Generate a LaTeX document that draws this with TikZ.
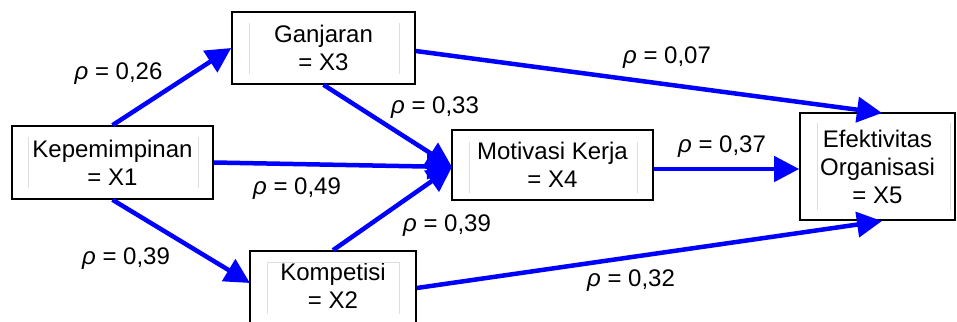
\documentclass[tikz,border=0pt]{standalone}
\usepackage{fontspec}
\setmainfont{Liberation Sans}
\usetikzlibrary{arrows.meta}
\begin{document}
\begin{tikzpicture}[x=1pt,y=-1pt,
  box/.style={draw=black,line width=1.6pt,fill=white,inner sep=0pt,
    font=\fontsize{24}{28}\selectfont,align=center},
  arr/.style={draw=blue,line width=4.5pt,-{Triangle[length=25pt,width=25pt]}},
  lab/.style={font=\fontsize{24}{28}\selectfont,inner sep=0pt},
  guide/.style={draw=black!13,line width=0.8pt}]
\useasboundingbox (0,0) rectangle (957,321);
% boxes
\node[box,minimum width=201pt,minimum height=73pt] (x1) at (112.5,162.5) {Kepemimpinan\\= X1};
\node[box,minimum width=183pt,minimum height=72pt] (x3) at (323.5,48) {Ganjaran\\= X3};
\node[box,minimum width=166pt,minimum height=74pt] (x2) at (333,288) {};
\node[box,minimum width=201pt,minimum height=70pt] (x4) at (552.5,165) {Motivasi Kerja\\= X4};
\node[box,minimum width=155pt,minimum height=107pt] (x5) at (877.5,166.5) {Efektivitas\\Organisasi\\= X5};
\node[font=\fontsize{24}{28}\selectfont,align=center,inner sep=0pt] (x2t) at (333,286) {Kompetisi\\= X2};
% guide lines (text box margins)
\draw[guide] (28,137) -- (28,188) (198,137) -- (198,188);
\draw[guide] (249,23) -- (249,74) (399,23) -- (399,74);
\draw[guide] (267,314) -- (267,262) -- (399,262) -- (399,314);
\draw[guide] (469,142) -- (469,193) (637,142) -- (637,193);
\draw[guide] (817,123) -- (817,210) (950,123) -- (950,210);
% connector end points
\coordinate (x4in) at (452,167);
\coordinate (x2in) at (250,283);
\coordinate (x5top) at (882,113);
\coordinate (x5bot) at (882,221);
% arrows
\draw[arr] (x1.north) -- (x3.west);
\draw[arr] (x1.east) -- (x4in);
\draw[arr] (x1.south) -- (x2in);
\draw[arr] (x3.south) -- (x4in);
\draw[arr] (x2.north) -- (x4in);
\draw[arr] ([yshift=-3pt]x3.east) -- (x5top);
\draw[arr] (x4.east |- 0,169) -- (x5.west |- 0,169);
\draw[arr] (x2.east) -- (x5bot);
% labels
\node[lab] (l1) at (118.5,74) {\textit{ρ} = 0,26};
\node[lab] (l2) at (667,58) {\textit{ρ} = 0,07};
\node[lab] (l3) at (435,108) {\textit{ρ} = 0,33};
\node[lab] (l4) at (722,147) {\textit{ρ} = 0,37};
\node[lab] (l5) at (297,189) {\textit{ρ} = 0,49};
\node[lab] (l6) at (447,226) {\textit{ρ} = 0,39};
\node[lab] (l7) at (126,259) {\textit{ρ} = 0,39};
\node[lab] (l8) at (631,281) {\textit{ρ} = 0,32};
\end{tikzpicture}
\end{document}
